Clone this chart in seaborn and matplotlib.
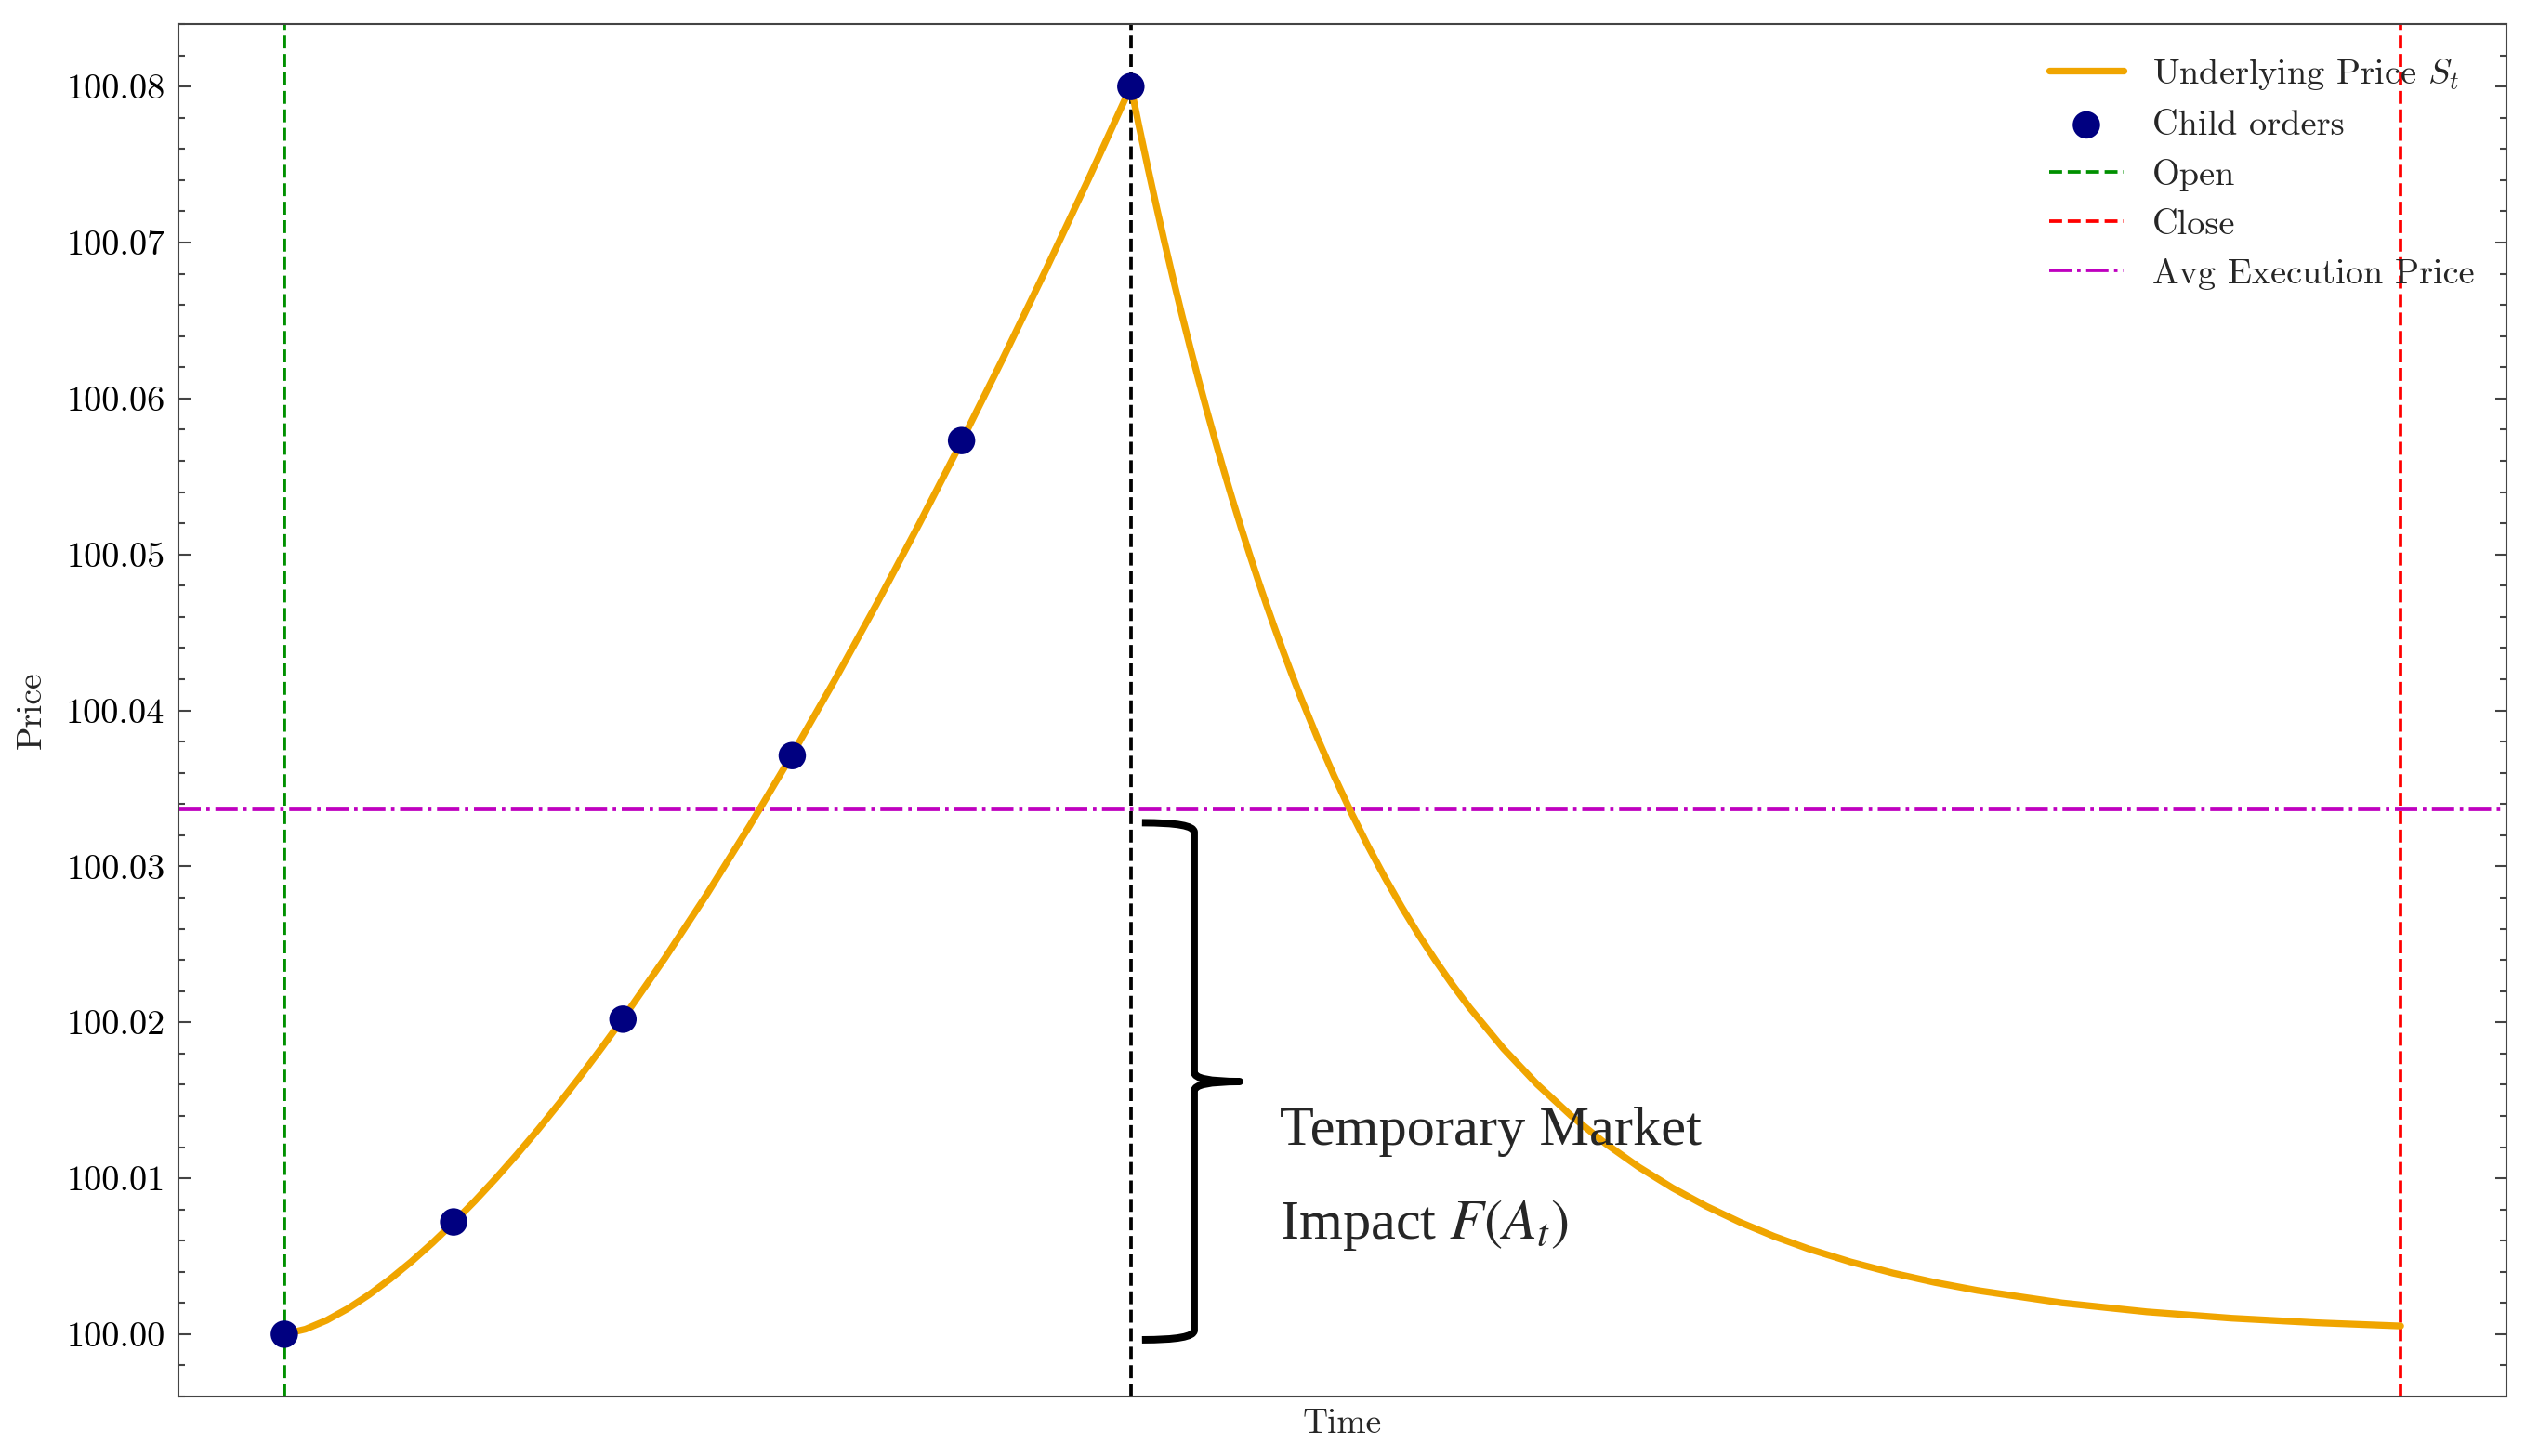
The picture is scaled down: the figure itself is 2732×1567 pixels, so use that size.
import matplotlib
matplotlib.use("Agg")
import matplotlib.pyplot as plt
import seaborn as sns
import pandas as pd
from matplotlib.path import Path
from matplotlib.patches import PathPatch
from matplotlib.ticker import MultipleLocator, FormatStrFormatter

# ---------------- data ----------------
# Underlying price path: rise during execution (t = 0..5), decay afterwards (t = 5..12.5)
time_rise = [0.0, 0.125, 0.25, 0.375, 0.5, 0.625, 0.75, 0.875, 1.0, 1.125, 1.25, 1.375,
             1.5, 1.625, 1.75, 1.875, 2.0, 2.25, 2.5, 2.75, 3.0, 3.25, 3.5, 3.75, 4.0,
             4.25, 4.5, 4.75, 5.0]
price_rise = [100.00000, 100.00032, 100.00089, 100.00164, 100.00253, 100.00354,
              100.00465, 100.00586, 100.00716, 100.00854, 100.01000, 100.01154,
              100.01314, 100.01482, 100.01656, 100.01837, 100.02024, 100.02415,
              100.02828, 100.03263, 100.03718, 100.04192, 100.04685, 100.05196,
              100.05724, 100.06269, 100.06830, 100.07407, 100.08000]
time_decay = [5.05, 5.1, 5.15, 5.2, 5.25, 5.3, 5.35, 5.4, 5.45, 5.5, 5.55, 5.6, 5.65,
              5.7, 5.75, 5.8, 5.85, 5.9, 5.95, 6.0, 6.1, 6.2, 6.3, 6.4, 6.5, 6.6, 6.7,
              6.8, 6.9, 7.0, 7.2, 7.4, 7.6, 7.8, 8.0, 8.2, 8.4, 8.6, 8.8, 9.0, 9.25,
              9.5, 9.75, 10.0, 10.5, 11.0, 11.5, 12.0, 12.5]
price_decay = [100.077364, 100.074816, 100.072351, 100.069967, 100.067662, 100.065433,
               100.063277, 100.061193, 100.059177, 100.057227, 100.055342, 100.053518,
               100.051755, 100.050050, 100.048401, 100.046807, 100.045265, 100.043773,
               100.042331, 100.040937, 100.038284, 100.035804, 100.033484, 100.031315,
               100.029285, 100.027386, 100.025611, 100.023952, 100.022400, 100.020948,
               100.018320, 100.016022, 100.014012, 100.012255, 100.010719, 100.009374,
               100.008199, 100.007171, 100.006271, 100.005485, 100.004640, 100.003924,
               100.003319, 100.002807, 100.002008, 100.001436, 100.001027, 100.000735,
               100.000526]

# Child orders
order_time = [0, 1, 2, 3, 4, 5]
order_price = [100.0000, 100.0072, 100.0202, 100.0371, 100.0573, 100.0800]

open_time = 0.0
close_time = 12.5
peak_time = 5.0
avg_exec_price = sum(order_price) / len(order_price)

# ---------------- style ----------------
sns.set_style("ticks")
plt.rcParams.update({
    "font.family": ["cmr10"],
    "mathtext.fontset": "cm",
    "axes.formatter.use_mathtext": True,
    "font.size": 9,
    "axes.linewidth": 0.5,
    "axes.edgecolor": "#444444",
    "xtick.direction": "in",
    "ytick.direction": "in",
    "ytick.right": True,
    "ytick.major.size": 3.0,
    "ytick.minor.size": 1.6,
    "ytick.major.width": 0.5,
    "ytick.minor.width": 0.5,
    "ytick.color": "#444444",
    "ytick.labelcolor": "black",
    "ytick.labelsize": 9.2,
})

fig = plt.figure(figsize=(2732 / 300, 1567 / 300), dpi=300)
ax = fig.add_axes([0.0703, 0.0408, 0.9169, 0.9426])

curve = pd.DataFrame({"Time": time_rise + time_decay,
                      "Price": price_rise + price_decay})
orders = pd.DataFrame({"Time": order_time, "Price": order_price})

sns.lineplot(data=curve, x="Time", y="Price", ax=ax, color="#F0A500", lw=1.75,
             label=r"Underlying Price $S_t$", estimator=None, zorder=3)
sns.scatterplot(data=orders, x="Time", y="Price", ax=ax, color="#000080", s=50,
                edgecolor="none", label="Child orders", zorder=4)
ax.axvline(open_time, color="#009000", ls="--", lw=0.9, label="Open", zorder=2)
ax.axvline(close_time, color="red", ls="--", lw=0.9, label="Close", zorder=2)
ax.axhline(avg_exec_price, color="#BF00BF", ls="-.", lw=0.9,
           label="Avg Execution Price", zorder=2)
ax.axvline(peak_time, color="black", ls="--", lw=0.9, zorder=2)

# axes formatting
ax.set_xticks([])
ax.yaxis.set_major_locator(MultipleLocator(0.01))
ax.yaxis.set_minor_locator(MultipleLocator(0.002))
ax.yaxis.set_major_formatter(FormatStrFormatter("%.2f"))
ax.set_xlabel("Time", labelpad=3)
ax.set_ylabel("Price", labelpad=5)
for s in ax.spines.values():
    s.set_visible(True)

leg = ax.legend(loc="upper right", frameon=False, fontsize=9.2, handlelength=2.1,
                handletextpad=0.8, labelspacing=0.5, borderaxespad=0.5)

# brace annotation (temporary market impact)
top, bot, mid = 100.0328, 99.99964, 100.0162
xh, xv, xt = 5.066, 5.374, 5.643
r = 0.0006
verts = [(xh, top), (xv, top), (xv, top - r),
         (xv, mid + r), (xv, mid), (xt, mid),
         (xv, mid), (xv, mid - r),
         (xv, bot + r), (xv, bot), (xh, bot)]
codes = [Path.MOVETO, Path.CURVE3, Path.CURVE3,
         Path.LINETO, Path.CURVE3, Path.CURVE3,
         Path.CURVE3, Path.CURVE3,
         Path.LINETO, Path.CURVE3, Path.CURVE3]
ax.add_patch(PathPatch(Path(verts, codes), fill=False, lw=1.9, color="black",
                       capstyle="butt", joinstyle="round", zorder=5))
ax.text(5.88, 100.0130, "Temporary Market", fontsize=14.5, family="Liberation Serif",
        ha="left", va="center", zorder=6)
ax.text(5.88, 100.0070, r"Impact $F(A_t)$", fontsize=14.5, family="Liberation Serif",
        math_fontfamily="stix", ha="left", va="center", zorder=6)

fig.savefig("out.png", dpi=300)
